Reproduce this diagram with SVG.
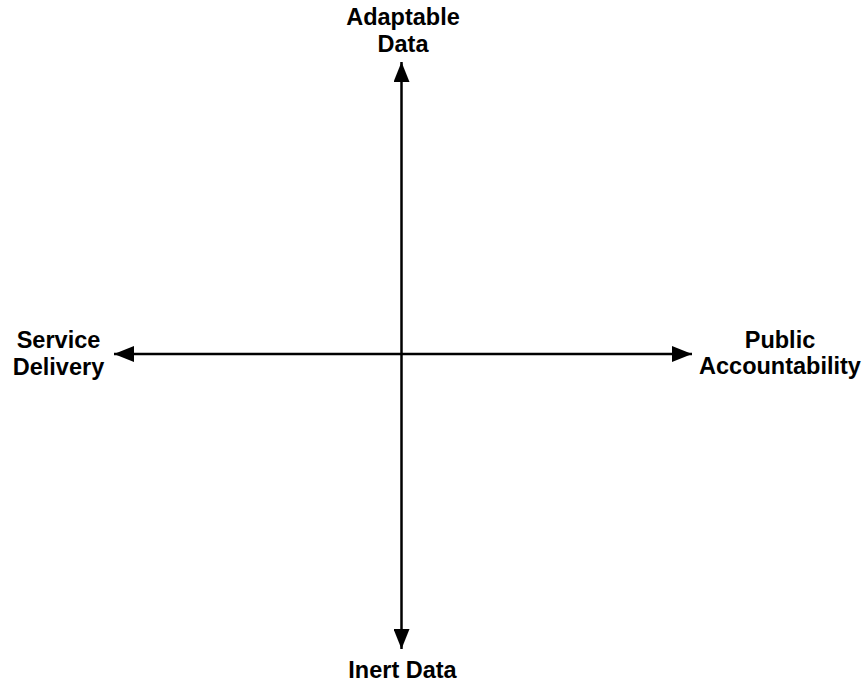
<svg xmlns="http://www.w3.org/2000/svg" width="867" height="684" viewBox="0 0 867 684">
<style>
.lbl{font-family:"Liberation Sans",Arial,sans-serif;font-weight:bold;font-size:23.5px;fill:#000;text-anchor:middle}
.ax{stroke:#000;stroke-width:2.5;fill:none}
</style>
<defs>
<marker id="ah" viewBox="0 0 20 16" refX="20" refY="8" markerWidth="20" markerHeight="16" markerUnits="userSpaceOnUse" orient="auto-start-reverse">
<path d="M0,0 L20,8 L0,16 Z" fill="#000"/>
</marker>
</defs>
<rect width="867" height="684" fill="#fff"/>
<g id="connectors">
<line class="ax" x1="401.5" y1="62" x2="401.5" y2="649" marker-start="url(#ah)" marker-end="url(#ah)"/>
<line class="ax" x1="114" y1="354" x2="692" y2="354" marker-start="url(#ah)" marker-end="url(#ah)"/>
</g>
<g id="top"><text class="lbl" x="403" y="25">Adaptable</text><text class="lbl" x="403" y="52">Data</text></g>
<g id="left"><text class="lbl" x="58.5" y="348">Service</text><text class="lbl" x="58.5" y="375">Delivery</text></g>
<g id="right"><text class="lbl" x="780" y="348">Public</text><text class="lbl" x="780" y="374">Accountability</text></g>
<g id="bottom"><text class="lbl" x="402.5" y="678">Inert Data</text></g>
</svg>
